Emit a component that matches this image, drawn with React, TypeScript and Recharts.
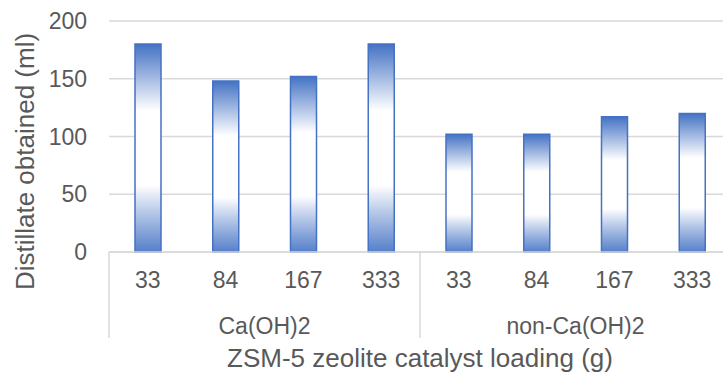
import { BarChart, Bar, XAxis, YAxis, CartesianGrid } from 'recharts'

// catalyst loadings (g), grouped by pre-treatment
const loads = ['33', '84', '167', '333', '33', '84', '167', '333']
const groups = ['Ca(OH)2', 'Ca(OH)2', 'Ca(OH)2', 'Ca(OH)2', 'non-Ca(OH)2', 'non-Ca(OH)2', 'non-Ca(OH)2', 'non-Ca(OH)2']
const distillate = [180, 148, 152, 180, 102, 102, 117, 120]
const yTicks = [0, 50, 100, 150, 200]

const data = loads.map((load, i) => ({ load, group: groups[i], ml: distillate[i] }))
const groupNames = Array.from(new Set(groups))

const CHART_W = 740
const CHART_H = 372
const Y_W = 109
const MARGIN = { top: 21, right: 9, left: 0, bottom: 0 }
const PLOT_W = CHART_W - Y_W - MARGIN.left - MARGIN.right
const HALF_GROUP = PLOT_W / groupNames.length / 2
const LOAD_AXIS_H = 48

const TEXT = '#595959'
const LINE = '#d9d9d9'
const BLUE = '#4472C4'

function LoadTick({ x, y, payload }: any) {
  return (
    <text x={x} y={y + 36} textAnchor="middle" fill={TEXT} fontSize={23}>
      {payload.value}
    </text>
  )
}

function GroupTick({ x, y, payload, index }: any) {
  const last = index === groupNames.length - 1
  return (
    <g>
      <line x1={x - HALF_GROUP} x2={x - HALF_GROUP} y1={y - LOAD_AXIS_H} y2={y + 38} stroke={LINE} strokeWidth={1.5} />
      {last && <line x1={x + HALF_GROUP} x2={x + HALF_GROUP} y1={y - LOAD_AXIS_H} y2={y + 38} stroke={LINE} strokeWidth={1.5} />}
      <text x={x} y={y + 34} textAnchor="middle" fill={TEXT} fontSize={23}>
        {payload.value}
      </text>
    </g>
  )
}

function YTitle({ viewBox }: any) {
  const cy = viewBox.y + viewBox.height / 2 + 25
  return (
    <text transform={`translate(33.5,${cy}) rotate(-90)`} textAnchor="middle" fill={TEXT} fontSize={26}>
      Distillate obtained (ml)
    </text>
  )
}

export default function App() {
  return (
    <div style={{ position: 'absolute', left: 0, top: 0, width: 723, height: 372, overflow: 'hidden', background: '#fff', fontFamily: '"Liberation Sans", Arial, sans-serif' }}>
      <BarChart width={CHART_W} height={CHART_H} data={data} margin={MARGIN}>
        <defs>
          <linearGradient id="barFill" x1="0" y1="0" x2="0" y2="1">
            <stop offset="0" stopColor={BLUE} />
            <stop offset="0.32" stopColor="#ffffff" />
            <stop offset="0.68" stopColor="#ffffff" />
            <stop offset="1" stopColor={BLUE} stopOpacity={0.9} />
          </linearGradient>
        </defs>
        <CartesianGrid vertical={false} stroke={LINE} strokeWidth={1.5} />
        <XAxis
          dataKey="load"
          height={LOAD_AXIS_H}
          tickLine={false}
          tickSize={0}
          tickMargin={0}
          stroke={LINE}
          strokeWidth={1.5}
          tick={<LoadTick />}
          interval={0}
        />
        <XAxis
          xAxisId="group"
          dataKey="group"
          allowDuplicatedCategory={false}
          height={CHART_H - MARGIN.top - 231 - LOAD_AXIS_H}
          axisLine={false}
          tickLine={false}
          tickSize={0}
          tickMargin={0}
          tick={<GroupTick />}
          interval={0}
          label={{ value: 'ZSM-5 zeolite catalyst loading (g)', position: 'insideBottom', offset: 5, fontSize: 26, fill: TEXT }}
        />
        <YAxis
          width={Y_W}
          domain={[0, 200]}
          ticks={yTicks}
          axisLine={false}
          tickLine={false}
          tickSize={0}
          tickMargin={22}
          tick={{ fontSize: 23, fill: TEXT }}
          label={<YTitle />}
        />
        <Bar dataKey="ml" barSize={26} fill="url(#barFill)" stroke={BLUE} strokeWidth={1.5} isAnimationActive={false} />
      </BarChart>
    </div>
  )
}
